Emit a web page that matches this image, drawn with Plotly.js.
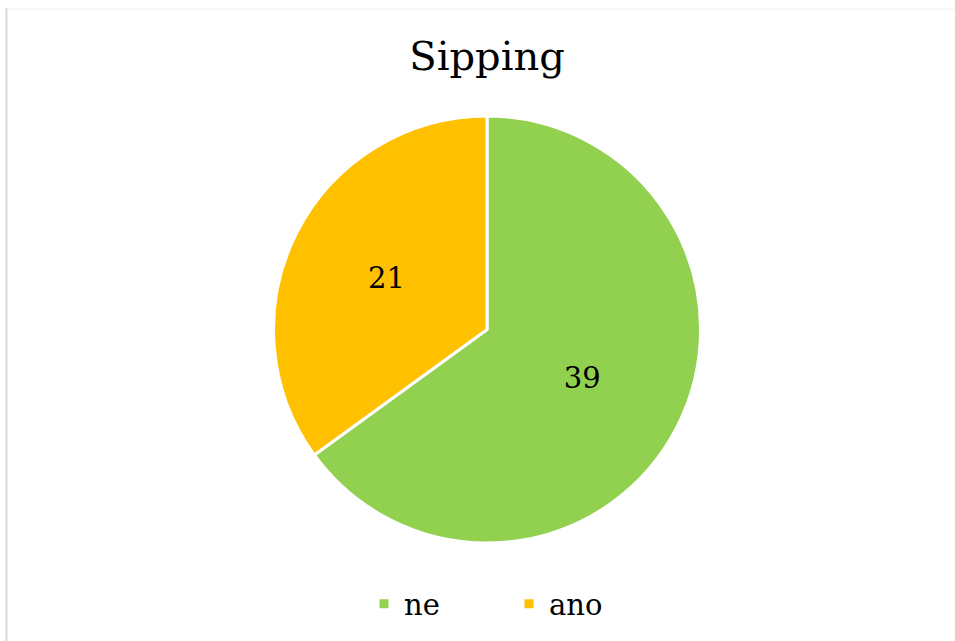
<!DOCTYPE html>
<html>
<head>
<meta charset="utf-8">
<script src="https://cdn.plot.ly/plotly-3.0.1.min.js"></script>
<style>html,body{margin:0;padding:0;background:#fff;}#chart{width:955px;height:641px;}</style>
</head>
<body>
<div id="chart"></div>
<script>
const chartTitle = "Sipping";
const categories = ["ne", "ano"];
const values = [39, 21];
const colors = ["#92D050", "#FFC000"];

const W = 955, H = 641;
const serif = "DejaVu Serif";

const trace = {
  type: "pie",
  labels: categories,
  values: values,
  sort: false,
  direction: "clockwise",
  rotation: 0,
  marker: { colors: colors, line: { color: "#ffffff", width: 3 } },
  textinfo: "value",
  textposition: "inside",
  insidetextorientation: "horizontal",
  textfont: { family: serif, size: 29, color: "#000000" },
  hoverinfo: "label+value",
  domain: { x: [0.02, 1], y: [1 - 543 / H, 1 - 116 / H] }
};

const layout = {
  width: W,
  height: H,
  margin: { l: 0, r: 0, t: 0, b: 0 },
  paper_bgcolor: "#ffffff",
  font: { family: serif },
  title: {
    text: chartTitle,
    font: { family: serif, size: 40, color: "#000000" },
    x: 0.51, xanchor: "center",
    y: 1 - 56 / H, yanchor: "middle", yref: "container"
  },
  showlegend: true,
  legend: {
    orientation: "h",
    x: 0.533, xanchor: "center",
    y: 1 - 604 / H, yanchor: "middle",
    font: { family: serif, size: 29, color: "#000000" },
    entrywidth: 100,
    traceorder: "normal"
  },
  shapes: [
    { type: "line", xref: "paper", yref: "paper", x0: 6.5 / W, x1: 6.5 / W, y0: 0, y1: 1 - 8 / H, line: { color: "#d9d9d9", width: 2 } },
    { type: "line", xref: "paper", yref: "paper", x0: 6.5 / W, x1: 1, y0: 1 - 9 / H, y1: 1 - 9 / H, line: { color: "#f0f0f0", width: 1 } }
  ]
};

Plotly.newPlot("chart", [trace], layout, { displayModeBar: false, staticPlot: true });
</script>
</body>
</html>
